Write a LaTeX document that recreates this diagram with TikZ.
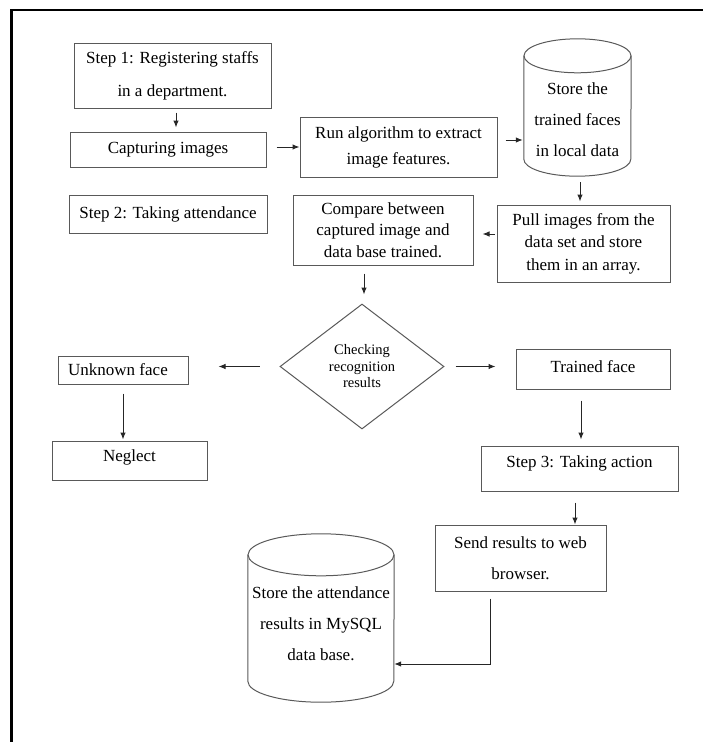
\documentclass[tikz,border=0pt]{standalone}
\usepackage{fontspec}
\setmainfont{Liberation Serif}
\usetikzlibrary{arrows.meta,shapes.geometric}
\begin{document}
\begin{tikzpicture}[x=1pt,y=-1pt,
  box/.style={draw=black!65, line width=1pt, rectangle, inner sep=0pt, align=center,
    text=black, font=\fontsize{17pt}{20pt}\selectfont},
  lbl/.style={align=center, text=black, font=\fontsize{17pt}{31pt}\selectfont},
  shp/.style={draw=black!65, line width=1pt},
  cylnode/.style={rectangle, inner sep=0pt},
  arr/.style={-{Latex[length=7pt,width=5.5pt]}, line width=1pt, draw=black!85},
  frame/.style={line width=2.2pt, draw=black}
]
\useasboundingbox (0,0) rectangle (703,742);
\draw[frame] (11.5,742) -- (11.5,10) -- (703,10);

% boxes
\node[box, minimum width=197pt, minimum height=65pt, font=\fontsize{17pt}{33pt}\selectfont] (b1) at (172.5,75.5) {\raisebox{-2pt}{Step 1: Registering staffs}\\\raisebox{-2pt}{in a department.}};
\node[box, minimum width=196pt, minimum height=35pt] (b2) at (168,149.5) {Capturing images};
\node[box, minimum width=197pt, minimum height=60pt, font=\fontsize{17pt}{26pt}\selectfont] (b3) at (398.5,147) {Run algorithm to extract\\image features.};
\node[box, minimum width=198pt, minimum height=38pt] (st2) at (168,214) {Step 2: Taking attendance};
\node[box, minimum width=180pt, minimum height=70pt, font=\fontsize{17pt}{21.5pt}\selectfont] (cmp) at (383,230) {Compare between\\captured image and\\data base trained.};
\node[box, minimum width=173pt, minimum height=77pt, font=\fontsize{17pt}{22.5pt}\selectfont] (pull) at (583.5,243.5) {Pull images from the\\data set and store\\them in an array.};

% cylinder 1
\node[cylnode, minimum width=107pt, minimum height=137pt,
  label={[lbl, yshift=-12pt]center:Store the\\trained faces\\in local data}] (c1) at (577.5,107.5) {};
\draw[shp] ([yshift=-17pt]c1.north west) -- ([yshift=17pt]c1.south west)
  arc[start angle=180, end angle=360, x radius=53.5pt, y radius=17pt]
  -- ([yshift=-17pt]c1.north east);
\draw[shp] ([yshift=-17pt]c1.north) ellipse [x radius=53.5pt, y radius=17pt];

% diamond
\node[diamond, draw=black!65, line width=1pt, minimum width=164pt, minimum height=125pt,
  inner sep=0pt, align=center, text=black, font=\fontsize{14.5pt}{16.5pt}\selectfont]
  (dia) at (362,366.5) {Checking\\recognition\\results};

\node[box, minimum width=130pt, minimum height=28pt] (unk) at (123,370) {Unknown face\hspace*{10pt}};
\node[box, minimum width=155pt, minimum height=39pt, label={[lbl, yshift=3pt]center:Neglect}] (neg) at (129.5,460.5) {};
\node[box, minimum width=154pt, minimum height=40pt, label={[lbl, yshift=2.5pt]center:Trained face}] (trn) at (593,369) {};
\node[box, minimum width=197pt, minimum height=45pt, label={[lbl, yshift=5.5pt]center:Step 3: Taking action}] (st3) at (579.5,468.5) {};
\node[box, minimum width=171pt, minimum height=66pt, font=\fontsize{17pt}{31pt}\selectfont] (snd) at (520.5,558) {Send results to web\\browser.};

% cylinder 2
\node[cylnode, minimum width=146pt, minimum height=168pt,
  label={[lbl, yshift=-5.5pt]center:Store the attendance\\results in MySQL\\data base.}] (c2) at (321,618) {};
\draw[shp] ([yshift=-21pt]c2.north west) -- ([yshift=21pt]c2.south west)
  arc[start angle=180, end angle=360, x radius=73pt, y radius=21pt]
  -- ([yshift=-21pt]c2.north east);
\draw[shp] ([yshift=-21pt]c2.north) ellipse [x radius=73pt, y radius=21pt];

% connectors
\draw[arr, shorten <=4pt, shorten >=4pt] ([xshift=3.5pt]b1.south) -- ([xshift=8pt]b2.north);
\coordinate (p1) at ([yshift=2.5pt]b2.east);
\draw[arr, shorten <=10pt] (p1) -- (p1 -| b3.west);
\coordinate (p2) at ([yshift=7pt]b3.east);
\draw[arr, shorten <=8pt, shorten >=1pt] (p2) -- (p2 -| c1.west);
\draw[arr, shorten <=6pt, shorten >=3pt] ([xshift=2.5pt]c1.south) -- ([xshift=-3.5pt]pull.north);
\coordinate (p3) at ([yshift=9.5pt]pull.west);
\draw[arr, shorten <=2pt, shorten >=9pt] (p3) -- (p3 -| cmp.east);
\coordinate (p4) at ([xshift=2pt]dia.north);
\draw[arr, shorten <=8pt, shorten >=9pt] (p4 |- cmp.south) -- (p4);
\draw[arr, shorten <=20pt, shorten >=30pt] (dia.west) -- (dia.west -| unk.east);
\draw[arr, shorten <=9pt, shorten >=1pt] (unk.south) -- (unk.south |- neg.north);
\draw[arr, shorten <=11pt, shorten >=20pt] (dia.east) -- (dia.east -| trn.west);
\coordinate (p5) at ([xshift=-12pt]trn.south);
\draw[arr, shorten <=11pt, shorten >=6pt] (p5) -- (p5 |- st3.north);
\coordinate (p6) at ([xshift=-4.5pt]st3.south);
\draw[arr, shorten <=11pt] (p6) -- (p6 |- snd.north);
\coordinate (p7) at ([xshift=-30.5pt]snd.south);
\coordinate (p8) at ([yshift=-46pt]c2.east);
\draw[arr, shorten <=7pt] (p7) |- (p8);
\end{tikzpicture}
\end{document}
